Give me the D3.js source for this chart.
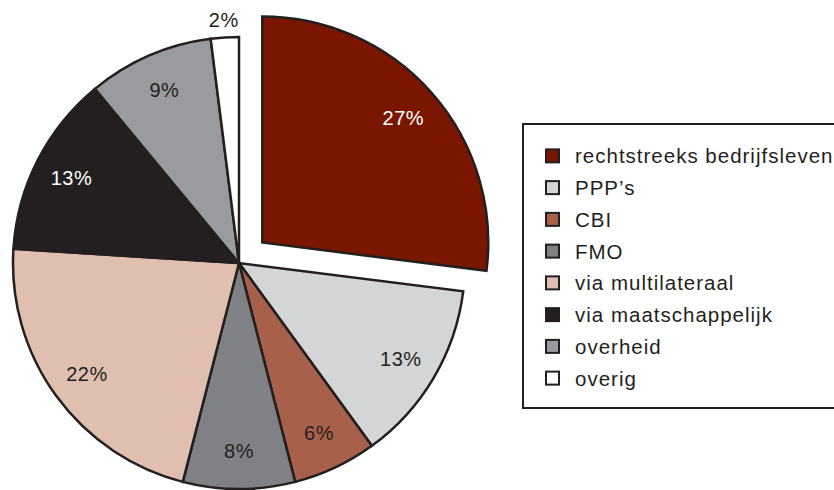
<html>
<head>
  <meta charset="utf-8">
  <title>Verdeling</title>
  <style>
    body { margin: 0; background: #fff; font-family: "Liberation Sans", Arial, sans-serif; }
    .label { font-size: 20px; letter-spacing: 0.5px; }
    .legend text { font-size: 20.5px; letter-spacing: 1px; fill: #231f20; }
  </style>
  <script src="https://d3js.org/d3.v7.min.js"></script>
</head>
<body>
  <div id="chart"></div>
  <script>
    // Data
    const categories = ["rechtstreeks bedrijfsleven", "PPP\u2019s", "CBI", "FMO",
      "via multilateraal", "via maatschappelijk", "overheid", "overig"];
    const values = [27, 13, 6, 8, 22, 13, 9, 2];
    const colors = ["#7a1600", "#d4d5d7", "#a9604a", "#808184",
      "#e0bfb0", "#231f20", "#9a9b9e", "#ffffff"];
    const labelColors = ["#fff", "#231f20", "#231f20", "#231f20",
      "#231f20", "#fff", "#231f20", "#231f20"];

    const width = 834, height = 490;
    const cx = 239, cy = 263, radius = 226;
    const explode = 31;
    const stroke = "#231f20";

    const svg = d3.select("#chart").append("svg")
      .attr("width", width)
      .attr("height", height);

    const data = categories.map((c, i) => ({ name: c, value: values[i], color: colors[i], lc: labelColors[i], i }));

    const pie = d3.pie().value(d => d.value).sort(null);
    const arc = d3.arc().innerRadius(0).outerRadius(radius);
    const labelArc = d3.arc().innerRadius(188).outerRadius(188);
    const outerLabelArc = d3.arc().innerRadius(243).outerRadius(243);

    const arcs = pie(data);

    const g = svg.append("g").attr("transform", `translate(${cx},${cy})`);

    // offset for the exploded first slice
    const offset = d => {
      if (d.data.i !== 0) return [0, 0];
      const a = (d.startAngle + d.endAngle) / 2;
      return [Math.sin(a) * explode, -Math.cos(a) * explode];
    };

    const slices = g.selectAll("g.slice").data(arcs).join("g")
      .attr("class", "slice")
      .attr("transform", d => `translate(${offset(d)})`);

    slices.append("path")
      .attr("d", arc)
      .attr("fill", d => d.data.color)
      .attr("stroke", stroke)
      .attr("stroke-width", 2.5)
      .attr("stroke-linejoin", "miter");

    slices.append("text")
      .attr("class", "label")
      .attr("transform", d => `translate(${(d.data.value < 4 ? outerLabelArc : labelArc).centroid(d)})`)
      .attr("text-anchor", "middle")
      .attr("dy", "0.35em")
      .attr("fill", d => d.data.lc)
      .text(d => d.data.value + "%");

    // Legend
    const legend = svg.append("g").attr("class", "legend");
    legend.append("rect")
      .attr("x", 523).attr("y", 124)
      .attr("width", 340).attr("height", 284)
      .attr("fill", "#fff")
      .attr("stroke", stroke)
      .attr("stroke-width", 2);

    const ly = d3.scaleBand().domain(categories).range([140, 394]);

    const rows = legend.selectAll("g.row").data(data).join("g")
      .attr("class", "row")
      .attr("transform", d => `translate(545,${ly(d.name) + ly.bandwidth() / 2})`);

    rows.append("rect")
      .attr("x", 1).attr("y", -6.5)
      .attr("width", 13).attr("height", 13)
      .attr("fill", d => d.color)
      .attr("stroke", stroke)
      .attr("stroke-width", 2);

    rows.append("text")
      .attr("x", 30)
      .attr("dy", "0.36em")
      .text(d => d.name);
  </script>
</body>
</html>
